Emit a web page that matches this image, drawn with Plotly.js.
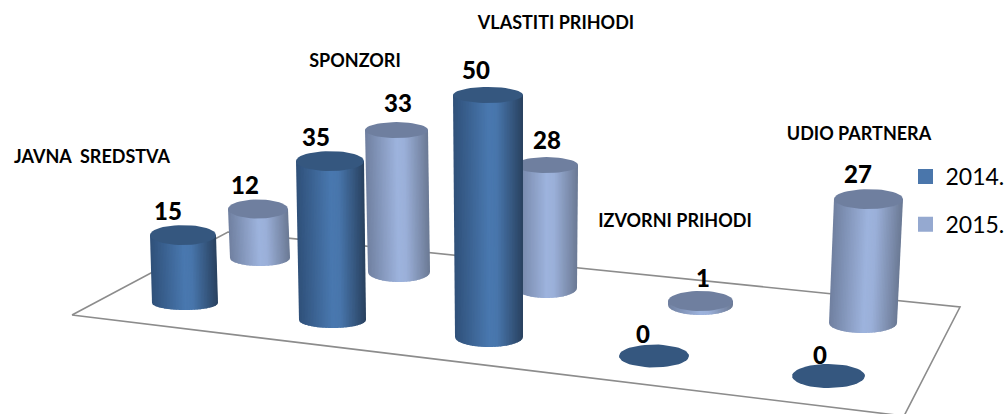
<!DOCTYPE html>
<html><head><meta charset="utf-8">
<script src="https://cdn.plot.ly/plotly-3.0.1.min.js"></script>
<style>html,body{margin:0;padding:0;background:#fff}#c{width:1006px;height:414px}</style>
</head><body><div id="c"></div>
<script>
// ---- chart data ----
const categories = ['JAVNA  SREDSTVA','SPONZORI','VLASTITI PRIHODI','IZVORNI PRIHODI','UDIO PARTNERA'];
const seriesNames = ['2014.','2015.'];
const values2014 = [15,35,50,0,0];
const values2015 = [12,33,28,1,27];

// ---- oblique-view projection of each cylinder (one entry per category) ----
const base2014 = {topL:[150,296,453,619,792],topR:[216,364,523,689,865],botL:[152,299,455,619,792],botR:[218,366,523,689,865],
  baseY:[303,320,337,356,376],unit:[4.53,4.54,4.84,4.8,4.8],ryTop:[10,10,8,11.5,12],ryBot:[7,8,10,11.5,12],
  labelX:[168,316,476,643,820],labelRise:[21.5,21.5,22,19.5,18]};
const base2015 = {topL:[228,365,515,668,834],topR:[288,428,578,733,903],botL:[230,368,516,668,829],botR:[290,430,577,733,897],
  baseY:[258,272,288,305,323],unit:[4.08,4.3,4.39,4,4.59],ryTop:[9.5,8,8,10,10],ryBot:[8,10,10,10,10],
  labelX:[245,398,547,703,858],labelRise:[21.5,24,22.5,20,22.5]};
const floorX = [72,228,960,904,72];
const floorY = [315,232,307,416,315];
const titleX = [92,355,556,675,859];
const titleY = [158,62,24,222,135];

// ---- styles ----
const shade2014 = {stops:[[0,[47,80,121]],[0.5,[73,120,175]],[0.62,[72,118,172]],[1,[41,65,95]]], top:'#35577f', legend:'#4a76ab'};
const shade2015 = {stops:[[0,[112,128,160]],[0.5,[157,179,221]],[0.62,[155,176,217]],[1,[107,121,148]]], top:'#6f7f9f', legend:'#95a9d0'};
const STRIPS = 44;
const boldFont = 'Lato, Carlito, "Open Sans", sans-serif';

function shade(stops,t){
  for(let i=1;i<stops.length;i++){
    if(t<=stops[i][0]){
      const a=stops[i-1],b=stops[i],k=(t-a[0])/(b[0]-a[0]);
      const c=a[1].map((v,n)=>Math.round(v+(b[1][n]-v)*k));
      return `rgb(${c[0]},${c[1]},${c[2]})`;
    }
  }
  return 'rgb(0,0,0)';
}

const traces = [];
traces.push({type:'scatter',mode:'lines',x:floorX,y:floorY,line:{color:'#8c8c8c',width:1.6},hoverinfo:'skip',showlegend:false});

function cylinder(i,values,geo,sty,name){
  const v=values[i], baseY=geo.baseY[i], topY=baseY-v*geo.unit[i];
  const tL=geo.topL[i], tR=geo.topR[i], bL=geo.botL[i], bR=geo.botR[i];
  const hov=name+' '+categories[i].replace(/\s+/g,' ')+': '+v;
  if(v>0){
    for(let s=0;s<STRIPS;s++){
      const t0=s/STRIPS, t1=Math.min(1,(s+1.6)/STRIPS), t=(s+0.5)/STRIPS;
      const xs=[],ys=[];
      xs.push(tL+(tR-tL)*t0); ys.push(topY);
      xs.push(tL+(tR-tL)*t1); ys.push(topY);
      for(let k=0;k<=4;k++){
        const u=t1+(t0-t1)*k/4, w=2*u-1;
        xs.push(bL+(bR-bL)*u);
        ys.push(baseY+geo.ryBot[i]*Math.sqrt(Math.max(0,1-w*w)));
      }
      xs.push(xs[0]); ys.push(ys[0]);
      traces.push({type:'scatter',mode:'lines',x:xs,y:ys,fill:'toself',fillcolor:shade(sty.stops,t),
        line:{width:0},hoverinfo:'skip',showlegend:false});
    }
  }
  const ex=[],ey=[],cx=(tL+tR)/2,rx=(tR-tL)/2;
  for(let a=0;a<=48;a++){
    const th=a/48*2*Math.PI;
    ex.push(cx+rx*Math.cos(th)); ey.push(topY+geo.ryTop[i]*Math.sin(th));
  }
  traces.push({type:'scatter',mode:'lines',x:ex,y:ey,fill:'toself',fillcolor:sty.top,line:{width:0},
    text:hov,hoverinfo:'text',showlegend:false});
}
categories.forEach((c,i)=>cylinder(i,values2015,base2015,shade2015,seriesNames[1]));
categories.forEach((c,i)=>cylinder(i,values2014,base2014,shade2014,seriesNames[0]));

function labels(values,geo){
  traces.push({type:'scatter',mode:'text',
    x:geo.labelX,
    y:values.map((v,i)=>geo.baseY[i]-v*geo.unit[i]-geo.labelRise[i]),
    text:values.map(String),textposition:'middle center',
    textfont:{family:boldFont,size:24,color:'#000',weight:900},hoverinfo:'skip',showlegend:false});
}
labels(values2014,base2014);
labels(values2015,base2015);

traces.push({type:'scatter',mode:'text',x:titleX,y:titleY,text:categories.map(c=>c.replace(/  /g,'\u00a0\u00a0')),
  textposition:'middle center',textfont:{family:boldFont,size:18,color:'#000',weight:700},hoverinfo:'skip',showlegend:false});

// legend swatches live outside the axis range, only their legend entries show
[[seriesNames[0],shade2014.legend],[seriesNames[1],shade2015.legend]].forEach(([n,col])=>{
  traces.push({type:'scatter',mode:'markers',x:[-50],y:[-50],name:n,legendgroup:n,
    marker:{symbol:'square',size:15,color:col},hoverinfo:'skip',showlegend:true});
});

const layout = {
  width:1006,height:414,margin:{l:0,r:0,t:0,b:0,autoexpand:false},paper_bgcolor:'#fff',plot_bgcolor:'#fff',
  xaxis:{range:[0,1006],visible:false,fixedrange:true},
  yaxis:{range:[414,0],visible:false,fixedrange:true},
  showlegend:true,
  legend:{x:905.5/1006,y:1-155/414,xref:'paper',yref:'paper',xanchor:'left',yanchor:'top',bgcolor:'rgba(0,0,0,0)',
    font:{family:boldFont,size:23,color:'#000'},tracegroupgap:15,itemwidth:30,traceorder:'grouped'},
  hovermode:'closest'
};
Plotly.newPlot('c',traces,layout,{displayModeBar:false,staticPlot:true});
</script></body></html>
